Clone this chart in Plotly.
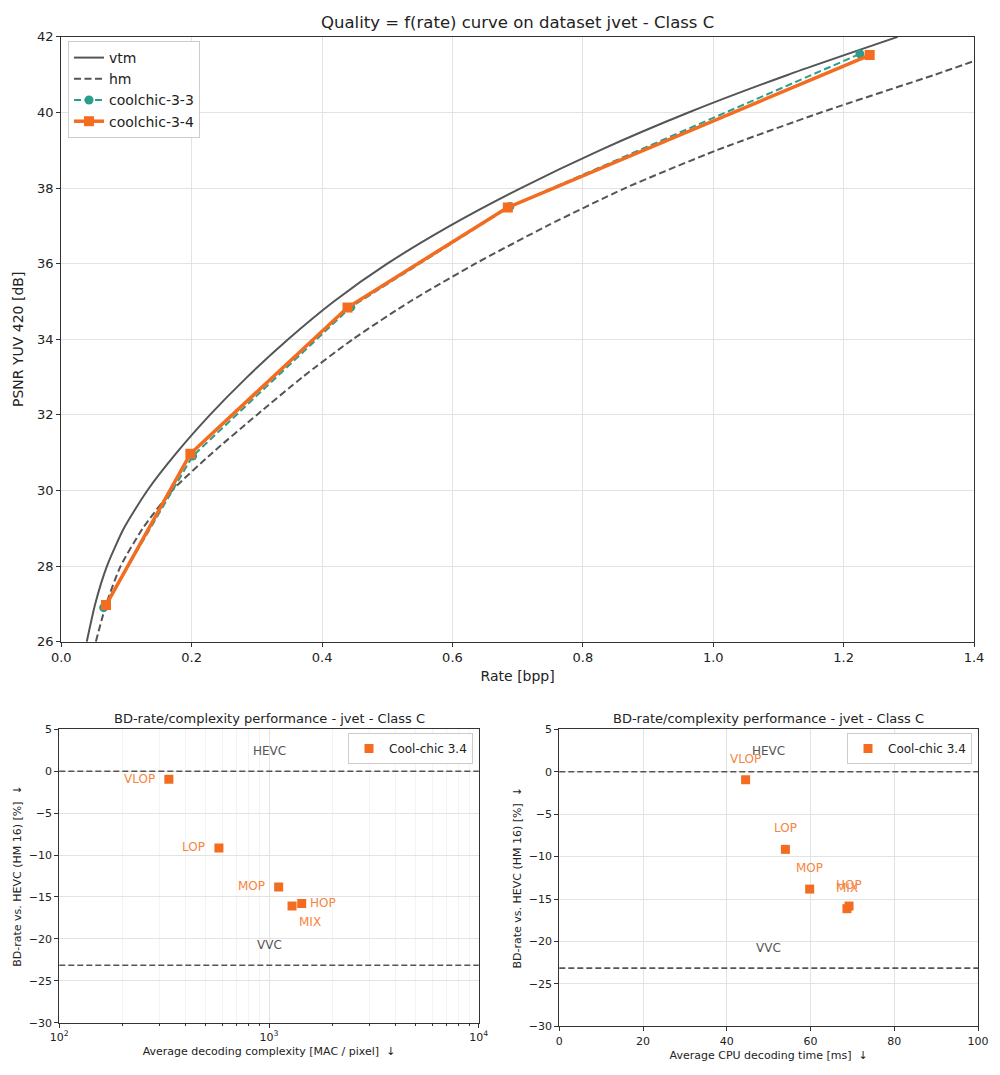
import math
import plotly.graph_objects as go

# ---------------- data ----------------
vtm_rate = [0.039, 0.052, 0.070, 0.096, 0.132, 0.177, 0.228, 0.285, 0.348, 0.418,
            0.500, 0.596, 0.705, 0.826, 0.962, 1.115, 1.283]
vtm_psnr = [26.0, 27.0, 28.0, 29.0, 30.0, 31.0, 32.0, 33.0, 34.0, 35.0,
            36.0, 37.0, 38.0, 39.0, 40.0, 41.0, 42.0]

hm_rate = [0.053, 0.069, 0.091, 0.125, 0.170, 0.232, 0.300, 0.370, 0.447, 0.535,
           0.635, 0.745, 0.865, 1.005, 1.165, 1.340, 1.40]
hm_psnr = [26.0, 27.0, 28.0, 29.0, 30.0, 31.0, 32.0, 33.0, 34.0, 35.0,
           36.0, 37.0, 38.0, 39.0, 40.0, 41.0, 41.36]

cc33_rate = [0.065, 0.2015, 0.444, 0.688, 1.225]
cc33_psnr = [26.9, 30.91, 34.85, 37.51, 41.55]

cc34_rate = [0.0686, 0.198, 0.439, 0.685, 1.240]
cc34_psnr = [26.97, 30.97, 34.84, 37.49, 41.52]

configs = ["VLOP", "LOP", "MOP", "HOP", "MIX"]
mac_per_pixel = [333, 577, 1112, 1432, 1288]
cpu_time_ms = [44.5, 54.0, 59.8, 69.2, 68.7]
bd_rate_mac = [-0.95, -9.15, -13.8, -15.79, -16.07]
bd_rate_cpu = [-0.94, -9.15, -13.83, -15.83, -16.14]

hevc_bd = 0.0
vvc_bd = -23.15

# ---------------- layout helpers (page has an 8px body margin) ----------------
OFF = 8
W, H = 1000 - 2 * OFF, 1075 - 2 * OFF


def px(x):
    return (x - OFF) / W


def py(y):
    return 1 - (y - OFF) / H


# ---------------- style ----------------
FONT = "DejaVu Sans"
GRAY = "#555555"
ORANGE = "#f46c1f"
ORANGE_TXT = "#f7843f"
TEAL = "#2a9d8f"
GRID = "#e3e3e3"
FRAME = "#333333"
DASH = "7px,3.5px"

fig = go.Figure()

# ---------------- top chart ----------------
fig.add_trace(go.Scatter(x=vtm_rate, y=vtm_psnr, mode="lines", name="vtm",
                         line=dict(color=GRAY, width=2, shape="spline", smoothing=0.6),
                         xaxis="x", yaxis="y", legend="legend"))
fig.add_trace(go.Scatter(x=hm_rate, y=hm_psnr, mode="lines", name="hm",
                         line=dict(color=GRAY, width=2, dash=DASH, shape="spline", smoothing=0.6),
                         xaxis="x", yaxis="y", legend="legend"))
fig.add_trace(go.Scatter(x=cc33_rate, y=cc33_psnr, mode="lines+markers", name="coolchic-3-3",
                         line=dict(color=TEAL, width=2, dash=DASH),
                         marker=dict(symbol="circle", size=9, color=TEAL),
                         xaxis="x", yaxis="y", legend="legend"))
fig.add_trace(go.Scatter(x=cc34_rate, y=cc34_psnr, mode="lines+markers", name="coolchic-3-4",
                         line=dict(color=ORANGE, width=3.5),
                         marker=dict(symbol="square", size=10, color=ORANGE),
                         xaxis="x", yaxis="y", legend="legend"))

# ---------------- bottom-left chart ----------------
fig.add_trace(go.Scatter(x=mac_per_pixel, y=bd_rate_mac, mode="markers", name="Cool-chic 3.4",
                         marker=dict(symbol="square", size=9, color=ORANGE),
                         xaxis="x2", yaxis="y2", legend="legend2"))
# ---------------- bottom-right chart ----------------
fig.add_trace(go.Scatter(x=cpu_time_ms, y=bd_rate_cpu, mode="markers", name="Cool-chic 3.4",
                         marker=dict(symbol="square", size=9, color=ORANGE),
                         xaxis="x3", yaxis="y3", legend="legend3"))

# reference lines (HEVC / VVC)
for xa, ya in (("x2", "y2"), ("x3", "y3")):
    for val in (hevc_bd, vvc_bd):
        fig.add_shape(type="line", xref=f"{xa} domain", yref=ya, x0=0, x1=1, y0=val, y1=val,
                      line=dict(color=GRAY, width=1.6, dash="6px,3px"))

annos = []
# titles
annos.append(dict(text="Quality = f(rate) curve on dataset jvet - Class C", xref="paper", yref="paper",
                  x=px(517.5), y=py(22), showarrow=False, font=dict(size=16.5, color="#222"),
                  xanchor="center", yanchor="middle"))
annos.append(dict(text="BD-rate/complexity performance - jvet - Class C", xref="paper", yref="paper",
                  x=px((59.3 + 478.7) / 2), y=py(718), showarrow=False,
                  font=dict(size=13, color="#222"), xanchor="center", yanchor="middle"))
annos.append(dict(text="BD-rate/complexity performance - jvet - Class C", xref="paper", yref="paper",
                  x=px((559.3 + 978) / 2), y=py(718), showarrow=False,
                  font=dict(size=13, color="#222"), xanchor="center", yanchor="middle"))

# HEVC / VVC labels
for xa, ya, xc in (("x2", "y2", math.log10(1000)), ("x3", "y3", 50)):
    annos.append(dict(text="HEVC", xref=xa, yref=ya, x=xc, y=hevc_bd + 2.4, showarrow=False,
                      font=dict(size=12, color=GRAY)))
    annos.append(dict(text="VVC", xref=xa, yref=ya, x=xc, y=vvc_bd + 2.4, showarrow=False,
                      font=dict(size=12, color=GRAY)))

# point labels, left chart (pixel offsets)
left_off = {"VLOP": (-29, 0), "LOP": (-25, 1), "MOP": (-27, 1), "HOP": (21, 1), "MIX": (18, -16)}
for name, xv, yv in zip(configs, mac_per_pixel, bd_rate_mac):
    dx, dy = left_off[name]
    annos.append(dict(text=name, xref="x2", yref="y2", x=math.log10(xv), y=yv, showarrow=False,
                      xshift=dx, yshift=dy, font=dict(size=12, color=ORANGE_TXT)))
# point labels, right chart
for name, xv, yv in zip(configs, cpu_time_ms, bd_rate_cpu):
    annos.append(dict(text=name, xref="x3", yref="y3", x=xv, y=yv, showarrow=False,
                      xshift=0, yshift=21, font=dict(size=12, color=ORANGE_TXT)))

axis_common = dict(showline=True, mirror=True, linecolor=FRAME, linewidth=1.3,
                   ticks="outside", ticklen=4, tickcolor=FRAME, showgrid=True, gridcolor=GRID,
                   gridwidth=1, zeroline=False, automargin=False)

fig.update_layout(
    width=W, height=H, margin=dict(l=0, r=0, t=0, b=0, autoexpand=False),
    paper_bgcolor="white", plot_bgcolor="white",
    font=dict(family=FONT, color="#222"),
    annotations=annos,
    xaxis=dict(domain=[px(61.3), px(974)], range=[0, 1.4], dtick=0.2, tickformat=".1f",
               tickfont=dict(size=13), title=dict(text="Rate [bpp]", font=dict(size=14), standoff=6),
               anchor="y", **axis_common),
    yaxis=dict(domain=[py(641.7), py(36.9)], range=[26, 42], dtick=2,
               tickfont=dict(size=13), title=dict(text="PSNR YUV 420 [dB]", font=dict(size=14), standoff=10),
               anchor="x", **axis_common),
    xaxis2=dict(domain=[px(59.3), px(478.7)], type="log", range=[2, 4],
                tickvals=[100, 1000, 10000], ticktext=["10<sup>2</sup>", "10<sup>3</sup>", "10<sup>4</sup>"],
                tickfont=dict(size=11),
                minor=dict(tickvals=[200, 300, 400, 500, 600, 700, 800, 900,
                                     2000, 3000, 4000, 5000, 6000, 7000, 8000, 9000],
                           ticks="outside", ticklen=2, tickcolor=FRAME, showgrid=True, gridcolor="#f4f4f4"),
                title=dict(text="Average decoding complexity [MAC / pixel]  ↓", font=dict(size=11), standoff=4),
                anchor="y2", **axis_common),
    yaxis2=dict(domain=[py(1022.7), py(729.3)], range=[-30, 5], dtick=5,
                tickfont=dict(size=11),
                title=dict(text="BD-rate vs. HEVC (HM 16) [%]  ↓", font=dict(size=11), standoff=4),
                anchor="x2", **axis_common),
    xaxis3=dict(domain=[px(559.3), px(978)], range=[0, 100], dtick=20, tickfont=dict(size=11),
                title=dict(text="Average CPU decoding time [ms]  ↓", font=dict(size=11), standoff=4),
                anchor="y3", **axis_common),
    yaxis3=dict(domain=[py(1026.3), py(729.3)], range=[-30, 5], dtick=5,
                tickfont=dict(size=11),
                title=dict(text="BD-rate vs. HEVC (HM 16) [%]  ↓", font=dict(size=11), standoff=4),
                anchor="x3", **axis_common),
    legend=dict(x=px(68), y=py(41), xanchor="left", yanchor="top", xref="paper", yref="paper",
                bgcolor="rgba(255,255,255,0.9)", bordercolor="#cccccc", borderwidth=1,
                font=dict(size=14), tracegroupgap=0, itemwidth=30),
    legend2=dict(x=px(473), y=py(733), xanchor="right", yanchor="top", xref="paper", yref="paper",
                 bgcolor="white", bordercolor="#cccccc", borderwidth=1, font=dict(size=12), itemwidth=30),
    legend3=dict(x=px(972), y=py(733), xanchor="right", yanchor="top", xref="paper", yref="paper",
                 bgcolor="white", bordercolor="#cccccc", borderwidth=1, font=dict(size=12), itemwidth=30),
)

fig.write_html("out.html")
